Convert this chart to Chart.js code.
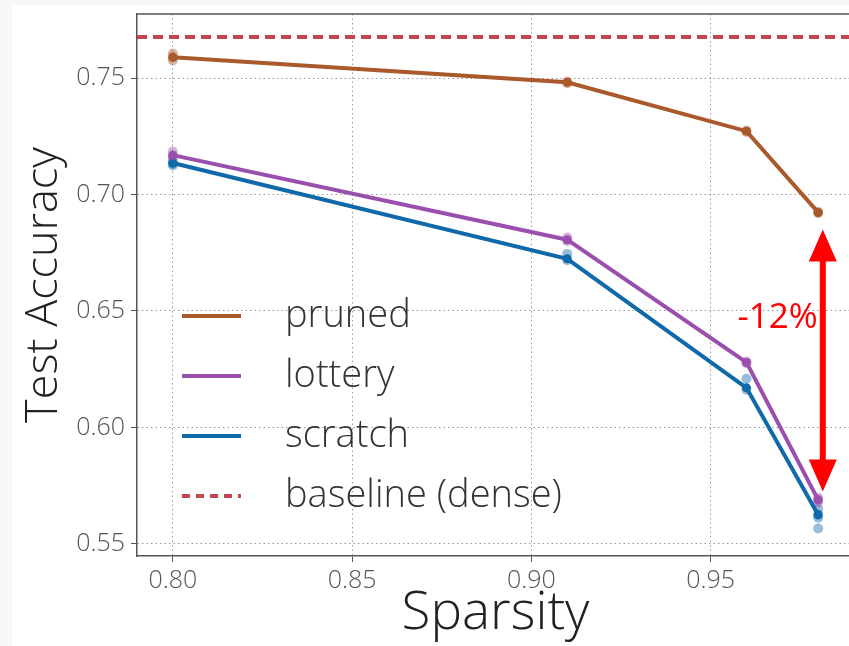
<!DOCTYPE html>
<html>
<head>
<meta charset="utf-8">
<script src="https://cdn.jsdelivr.net/npm/chart.js@4.4.1/dist/chart.umd.min.js"></script>
<style>
  html, body { margin: 0; padding: 0; background: #f6f7f9; overflow: hidden; }
  #wrap { position: absolute; left: 12px; top: 5px; width: 850px; height: 641px; background: #ffffff; }
</style>
</head>
<body>
<div id="wrap"><canvas id="acc" width="850" height="641"></canvas></div>
<script>
// -----------------------------
// data
// -----------------------------
const sparsity = [0.80, 0.91, 0.96, 0.98];
const pruned   = [0.7589, 0.7482, 0.7272, 0.6923];
const lottery  = [0.7169, 0.6806, 0.6279, 0.5689];
const scratch  = [0.7135, 0.6724, 0.6170, 0.5625];
const baselineDense = 0.7676;

// individual runs at each sparsity level
const prunedRuns  = [[0.7605, 0.7590, 0.7575], [0.7485, 0.7478], [0.7275, 0.7268], [0.6926, 0.6920]];
const lotteryRuns = [[0.7185, 0.7165, 0.7158], [0.6815, 0.6800], [0.6283, 0.6276], [0.5698, 0.5688, 0.5678]];
const scratchRuns = [[0.7142, 0.7132, 0.7125], [0.6745, 0.6718], [0.6209, 0.6162], [0.5650, 0.5625, 0.5612, 0.5566]];

const xTicks = [0.80, 0.85, 0.90, 0.95];
const yTicks = [0.55, 0.60, 0.65, 0.70, 0.75];
const xRange = [0.79, 0.99];
const yRange = [0.5448, 0.7775];

const seriesNames = ['pruned', 'lottery', 'scratch', 'baseline (dense)'];

// -----------------------------
// styles
// -----------------------------
const C_PRUNED  = '#a9592b';
const C_LOTTERY = '#9a4fae';
const C_SCRATCH = '#1069a8';
const C_BASE    = '#c1464f';
const FONT = '"Open Sans", "DejaVu Sans", sans-serif';

const toPoints = ys => ys.map((y, i) => ({ x: sparsity[i], y }));
const runPoints = runs => runs.flatMap((ys, i) => ys.map(y => ({ x: sparsity[i], y })));

function lineSet(label, ys, color) {
  return {
    label, data: toPoints(ys), showLine: true,
    borderColor: color, backgroundColor: color, borderWidth: 4,
    pointRadius: 4.5, pointHoverRadius: 4.5, pointBorderWidth: 0, order: 1
  };
}

function runSet(runs, color) {
  return {
    label: '', data: runPoints(runs), showLine: false,
    backgroundColor: color + '70', borderColor: color + '70',
    pointRadius: 5, pointBorderWidth: 0, order: 2
  };
}

// -----------------------------
// plugins: top edge, legend, drop arrow
// -----------------------------
const topEdgePlugin = {
  id: 'topEdge',
  afterDatasetsDraw(chart) {
    const { ctx, chartArea: a } = chart;
    ctx.save();
    ctx.strokeStyle = '#555';
    ctx.lineWidth = 1.5;
    ctx.beginPath();
    ctx.moveTo(a.left, a.top);
    ctx.lineTo(a.right, a.top);
    ctx.stroke();
    ctx.restore();
  }
};

const legendPlugin = {
  id: 'insideLegend',
  afterDatasetsDraw(chart) {
    const { ctx, chartArea: a } = chart;
    const colors = [C_PRUNED, C_LOTTERY, C_SCRATCH, C_BASE];
    ctx.save();
    seriesNames.forEach((name, i) => {
      const y = a.top + 302 + i * 60;
      ctx.beginPath();
      ctx.strokeStyle = colors[i];
      ctx.lineWidth = 4;
      ctx.setLineDash(i === 3 ? [8, 6] : []);
      ctx.moveTo(a.left + 45, y);
      ctx.lineTo(a.left + 104, y);
      ctx.stroke();
      ctx.setLineDash([]);
      ctx.fillStyle = '#333';
      ctx.font = '300 38px ' + FONT;
      ctx.textBaseline = 'middle';
      ctx.fillText(name, a.left + 148, y);
    });
    ctx.restore();
  }
};

// arrow between pruned and lottery at the highest sparsity
const arrowX = 0.9813;
const arrowTop = 0.6850;
const arrowBottom = 0.5725;
const dropLabel = '-' + Math.round((pruned[3] - lottery[3]) * 100) + '%';

const arrowPlugin = {
  id: 'dropArrow',
  afterDatasetsDraw(chart) {
    const { ctx, scales: { x, y } } = chart;
    const px = x.getPixelForValue(arrowX);
    const top = y.getPixelForValue(arrowTop);
    const bot = y.getPixelForValue(arrowBottom);
    const head = 32, half = 14;
    ctx.save();
    ctx.fillStyle = '#ff0000';
    ctx.strokeStyle = '#ff0000';
    ctx.lineWidth = 6;
    ctx.beginPath();
    ctx.moveTo(px, top + head - 4);
    ctx.lineTo(px, bot - head + 4);
    ctx.stroke();
    ctx.beginPath();
    ctx.moveTo(px, top);
    ctx.lineTo(px + half, top + head);
    ctx.lineTo(px - half, top + head);
    ctx.closePath();
    ctx.fill();
    ctx.beginPath();
    ctx.moveTo(px, bot);
    ctx.lineTo(px + half, bot - head);
    ctx.lineTo(px - half, bot - head);
    ctx.closePath();
    ctx.fill();
    ctx.font = '35px ' + FONT;
    ctx.textAlign = 'center';
    ctx.textBaseline = 'middle';
    ctx.fillText(dropLabel, x.getPixelForValue(0.9687), y.getPixelForValue(0.647));
    ctx.restore();
  }
};

// -----------------------------
// chart
// -----------------------------
const ctx = document.getElementById('acc');

new Chart(ctx, {
  type: 'scatter',
  data: {
    datasets: [
      lineSet('pruned', pruned, C_PRUNED),
      lineSet('lottery', lottery, C_LOTTERY),
      lineSet('scratch', scratch, C_SCRATCH),
      {
        label: 'baseline (dense)',
        data: [{ x: xRange[0], y: baselineDense }, { x: xRange[1], y: baselineDense }],
        showLine: true, borderColor: C_BASE, borderWidth: 4, borderDash: [10, 6],
        pointRadius: 0, order: 0
      },
      runSet(prunedRuns, C_PRUNED),
      runSet(lotteryRuns, C_LOTTERY),
      runSet(scratchRuns, C_SCRATCH)
    ]
  },
  options: {
    responsive: false,
    animation: false,
    events: [],
    layout: { padding: { left: 0, top: 9, right: 8, bottom: 0 } },
    plugins: {
      legend: { display: false },
      tooltip: { enabled: false }
    },
    scales: {
      x: {
        type: 'linear',
        min: xRange[0], max: xRange[1],
        afterBuildTicks: axis => { axis.ticks = xTicks.map(v => ({ value: v })); },
        afterFit: axis => { axis.height = 90; axis.paddingLeft = 0; axis.paddingRight = 0; },
        grid: { color: '#9a9a9a', lineWidth: 1, tickLength: 6, tickColor: '#555', tickBorderDash: [] },
        border: { display: true, color: '#555', width: 1.5, dash: [1.5, 3] },
        ticks: {
          color: '#555', padding: 4,
          font: { family: FONT, size: 25, weight: 300 },
          callback: v => v.toFixed(2)
        },
        title: {
          display: true, text: 'Sparsity', color: '#222',
          font: { family: FONT, size: 53, weight: 300 },
          padding: { top: 0, bottom: 0 }
        }
      },
      y: {
        type: 'linear',
        min: yRange[0], max: yRange[1],
        afterBuildTicks: axis => { axis.ticks = yTicks.map(v => ({ value: v })); },
        afterFit: axis => { axis.width = 125; axis.paddingTop = 0; axis.paddingBottom = 0; },
        grid: { color: '#9a9a9a', lineWidth: 1, tickLength: 6, tickColor: '#555', tickBorderDash: [] },
        border: { display: true, color: '#555', width: 1.5, dash: [1.5, 3] },
        ticks: {
          color: '#555', padding: 6,
          font: { family: FONT, size: 25, weight: 300 },
          callback: v => v.toFixed(2)
        },
        title: {
          display: true, text: 'Test Accuracy', color: '#222',
          font: { family: FONT, size: 45, weight: 300 },
          padding: { top: 5, bottom: 0 }
        }
      }
    }
  },
  plugins: [topEdgePlugin, legendPlugin, arrowPlugin]
});
</script>
</body>
</html>
